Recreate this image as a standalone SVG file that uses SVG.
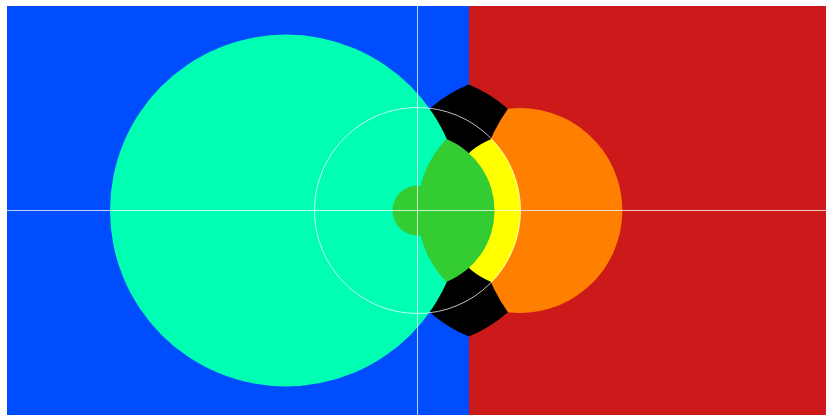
<svg xmlns="http://www.w3.org/2000/svg" width="826" height="415" viewBox="0 0 826 415">
  <style>
    .guide { fill: none; stroke: #ffffff; stroke-width: 1; stroke-opacity: 0.75; }
  </style>
  <rect x="0" y="0" width="826" height="415" fill="#ffffff"/>
  <g id="background">
    <rect x="7" y="6" width="462" height="409" fill="#004cff"/>
    <rect x="469" y="6" width="357" height="409" fill="#cc1a1a"/>
  </g>
  <g id="orange">
    <path d="M 507.9,108.7 A 102.5 102.5 0 1 1 507.9,312.3 A 176 176 0 0 1 507.9,108.7 Z" fill="#ff8000"/>
  </g>
  <g id="black-lens">
    <path d="M 468.75,84.5 A 136 136 0 0 0 468.75,336.5 A 136 136 0 0 0 507.83,312.2 A 176 176 0 0 1 507.83,108.8 A 136 136 0 0 0 468.75,84.5 Z" fill="#000000"/>
  </g>
  <g id="cyan-circle">
    <circle cx="286" cy="210.5" r="176" fill="#00ffb3"/>
  </g>
  <g id="yellow">
    <path d="M 491.6,138.9 A 103 103 0 0 1 491.6,282.1 A 77 77 0 0 1 491.6,138.9 Z" fill="#ffff00"/>
  </g>
  <g id="green">
    <path d="M 446.4,139.1 A 77 77 0 0 1 446.4,281.9 A 102.5 102.5 0 0 1 446.4,139.1 Z" fill="#33cc33"/>
    <circle cx="417.5" cy="210.5" r="25" fill="#33cc33"/>
  </g>
  <g id="guides">
    <line class="guide" x1="417.5" y1="6" x2="417.5" y2="415"/>
    <line class="guide" x1="7" y1="210.5" x2="826" y2="210.5"/>
    <circle class="guide" cx="417.5" cy="210.5" r="103"/>
  </g>
</svg>
